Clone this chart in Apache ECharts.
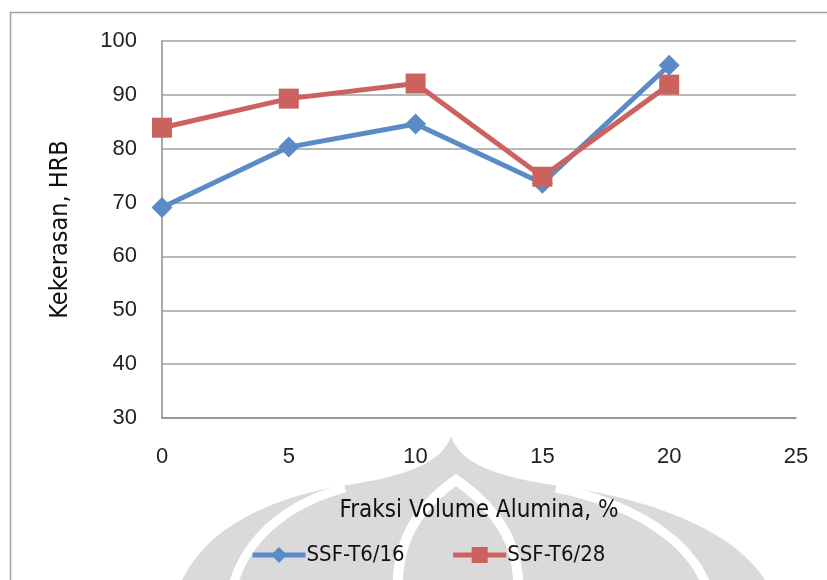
<!DOCTYPE html>
<html>
<head>
<meta charset="utf-8">
<script src="https://cdn.jsdelivr.net/npm/echarts@6/dist/echarts.min.js"></script>
<style>
  html, body { margin: 0; padding: 0; background: #ffffff; }
  #chart { width: 827px; height: 580px; }
</style>
</head>
<body>
<div id="chart"></div>
<script>
// Alumina volume fraction (%) and Rockwell B hardness for two SSF-T6 series
const fractions = [0, 5, 10, 15, 20];
const ssf16 = [69.1, 80.3, 84.6, 73.6, 95.5];
const ssf28 = [83.9, 89.3, 92.1, 74.8, 91.9];
const seriesNames = ['SSF-T6/16', 'SSF-T6/28'];
const xTitle = 'Fraksi Volume Alumina, %';
const yTitle = 'Kekerasan, HRB';

const tickFont = '"Liberation Sans", Arial, sans-serif';
const titleFont = '"Liberation Sans Narrow", "DejaVu Sans Condensed", "Liberation Sans", sans-serif';

// sample a chain of cubic curves [p0, c1, c2, p1, c1, c2, p2, ...] into points
function cubicChain(pts, steps) {
  const out = [pts[0]];
  for (let i = 0; i + 3 < pts.length; i += 3) {
    const [a, b, c, d] = [pts[i], pts[i + 1], pts[i + 2], pts[i + 3]];
    for (let s = 1; s <= steps; s++) {
      const t = s / steps, u = 1 - t;
      out.push([
        u*u*u*a[0] + 3*u*u*t*b[0] + 3*u*t*t*c[0] + t*t*t*d[0],
        u*u*u*a[1] + 3*u*u*t*b[1] + 3*u*t*t*c[1] + t*t*t*d[1]
      ]);
    }
  }
  return out;
}

// background emblem outline and its white dividing strokes
const wm = '#dadada';
const domePts = cubicChain([
  [451, 436], [460, 462], [490, 476], [560, 486],
  [670, 502], [748, 540], [770, 590],
  [770, 590], [178, 590], [178, 590],
  [196, 540], [250, 502], [340, 486],
  [410, 476], [442, 462], [451, 436]
], 24);
const leftArc = cubicChain([[232, 590], [242, 545], [280, 505], [345, 488]], 24);
const rightArc = cubicChain([[708, 590], [694, 545], [640, 505], [556, 488]], 24);
const midArch = cubicChain([
  [398, 590], [396, 540], [420, 505], [456, 480],
  [492, 505], [520, 540], [518, 590]
], 24);

const chart = echarts.init(document.getElementById('chart'), null, { renderer: 'canvas' });

chart.setOption({
  backgroundColor: '#ffffff',
  animation: false,
  graphic: [
    // outer chart frame
    { type: 'rect', z: -20, silent: true,
      shape: { x: 10.5, y: 12.5, width: 900, height: 700 },
      style: { fill: null, stroke: '#a0a0a0', lineWidth: 1.5 } },
    { type: 'polygon', z: -15, silent: true,
      shape: { points: domePts }, style: { fill: wm } },
    { type: 'polyline', z: -14, silent: true,
      shape: { points: leftArc }, style: { fill: null, stroke: '#ffffff', lineWidth: 9 } },
    { type: 'polyline', z: -14, silent: true,
      shape: { points: rightArc }, style: { fill: null, stroke: '#ffffff', lineWidth: 9 } },
    { type: 'polyline', z: -14, silent: true,
      shape: { points: midArch }, style: { fill: null, stroke: '#ffffff', lineWidth: 10 } }
  ],
  grid: { left: 162, right: 31, top: 41, bottom: 162, containLabel: false },
  legend: {
    bottom: 14,
    left: 250,
    padding: 0,
    itemWidth: 53,
    itemHeight: 20,
    itemGap: 46,
    lineStyle: { width: 5 },
    textStyle: { fontFamily: titleFont, fontSize: 22, color: '#111111', padding: [0, 0, 0, -4] },
    data: seriesNames
  },
  xAxis: {
    type: 'value',
    min: 0, max: 25, interval: 5,
    name: xTitle,
    nameLocation: 'middle',
    nameGap: 81,
    nameTextStyle: { fontFamily: titleFont, fontSize: 24, color: '#111111' },
    axisLine: { show: true, lineStyle: { color: '#8c8c8c', width: 1.5 } },
    axisTick: { show: false },
    axisLabel: { margin: 28, fontFamily: tickFont, fontSize: 22, color: '#222222' },
    splitLine: { show: false }
  },
  yAxis: {
    type: 'value',
    min: 30, max: 100, interval: 10,
    name: yTitle,
    nameLocation: 'middle',
    nameGap: 89,
    nameTextStyle: { fontFamily: titleFont, fontSize: 25, color: '#111111' },
    axisLine: { show: true, lineStyle: { color: '#8c8c8c', width: 1.5 } },
    axisTick: { show: false },
    axisLabel: { margin: 25, fontFamily: tickFont, fontSize: 22, color: '#222222' },
    splitLine: { show: true, lineStyle: { color: '#a0a0a0', width: 1.5 } }
  },
  series: [
    {
      name: seriesNames[0],
      type: 'line',
      data: fractions.map((f, i) => [f, ssf16[i]]),
      symbol: 'diamond',
      symbolSize: [21, 21],
      lineStyle: { color: '#5b8bc7', width: 5 },
      itemStyle: { color: '#5b8bc7' },
      z: 3
    },
    {
      name: seriesNames[1],
      type: 'line',
      data: fractions.map((f, i) => [f, ssf28[i]]),
      symbol: 'rect',
      symbolSize: [20, 20],
      lineStyle: { color: '#cc625e', width: 5 },
      itemStyle: { color: '#cc625e' },
      z: 4
    }
  ]
});
</script>
</body>
</html>
